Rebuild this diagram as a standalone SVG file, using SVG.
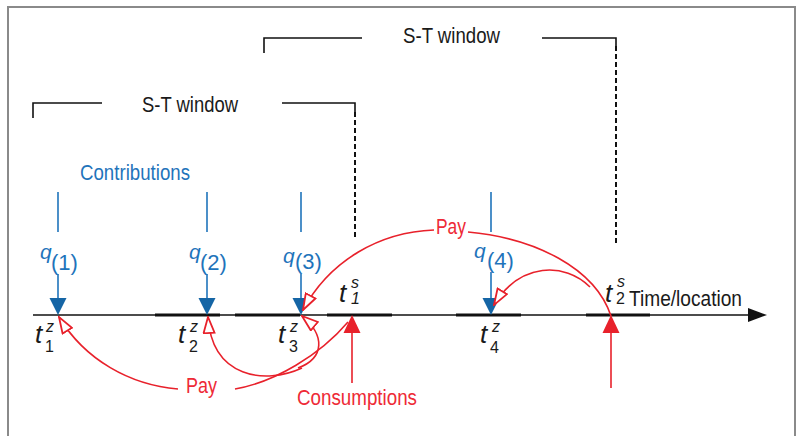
<svg xmlns="http://www.w3.org/2000/svg" width="801" height="436" viewBox="0 0 801 436">
<defs>
<style>
.txt{font-family:"Liberation Sans",Arial,sans-serif;}
.blk{fill:#1a1a1a;}
.blue{fill:#1f74bb;}
.red{fill:#ee2a36;}
.it{font-style:italic;}
.br{stroke:#111;stroke-width:1.6;fill:none;}
.dash{stroke:#111;stroke-width:2;stroke-dasharray:5,3;fill:none;}
.bl{stroke:#1f74bb;stroke-width:1.6;fill:none;}
.rl{stroke:#e8212b;stroke-width:1.6;fill:none;}
.bhead{fill:#1565a5;}
.rhead{fill:#e8212b;}
</style>
<marker id="open" viewBox="0 0 18 13" refX="17" refY="6.5" markerWidth="18" markerHeight="13" markerUnits="userSpaceOnUse" orient="auto">
<path d="M1,1 L17,6.5 L1,12 z" fill="#fff" stroke="#e8212b" stroke-width="1.8"/>
</marker>
</defs>
<rect x="0" y="0" width="801" height="436" fill="#fff"/>
<rect x="8" y="7" width="787" height="440" fill="none" stroke="#8a8a8a" stroke-width="2"/>

<g id="axis">
<line x1="33" y1="315" x2="752" y2="315" stroke="#111" stroke-width="1.6"/>
<path d="M155,315 H220 M235,315 H300 M327,315 H392 M456,315 H521 M586,315 H650" stroke="#111" stroke-width="3"/>
<path d="M748,308 L767,315 L748,322 z" fill="#111"/>
<text class="txt blk" x="629" y="306" font-size="22" textLength="113" lengthAdjust="spacingAndGlyphs">Time/location</text>
</g>

<g id="window1">
<path class="br" d="M33,118 V103 H102 M282,103 H355 V112"/>
<path class="dash" d="M355,112 V238"/>
<text class="txt blk" x="142" y="112" font-size="22" textLength="96" lengthAdjust="spacingAndGlyphs">S-T window</text>
</g>
<g id="window2">
<path class="br" d="M264,53 V38 H362 M542,38 H616 V46"/>
<path class="dash" d="M616,46 V245"/>
<text class="txt blk" x="403" y="43" font-size="22" textLength="97" lengthAdjust="spacingAndGlyphs">S-T window</text>
</g>

<g id="contributions-label">
<text class="txt blue" x="80" y="180" font-size="22" textLength="110" lengthAdjust="spacingAndGlyphs">Contributions</text>
</g>

<g id="c1">
<line class="bl" x1="58" y1="192" x2="58" y2="232"/>
<text class="txt blue" x="40" y="259" font-size="21"><tspan class="it">q</tspan><tspan x="51" y="270" font-size="22">(1)</tspan></text>
<line class="bl" x1="58" y1="274" x2="58" y2="300"/>
<path class="bhead" d="M49.5,298 L66.5,298 L58,315 z"/>
<text class="txt blk it" x="35" y="343" font-size="26">t</text>
<text class="txt blk it" x="46" y="332" font-size="16">z</text>
<text class="txt blk" x="45" y="352" font-size="16">1</text>
</g>
<g id="c2">
<line class="bl" x1="207" y1="192" x2="207" y2="232"/>
<text class="txt blue" x="189" y="259" font-size="21"><tspan class="it">q</tspan><tspan x="200" y="270" font-size="22">(2)</tspan></text>
<line class="bl" x1="207" y1="274" x2="207" y2="300"/>
<path class="bhead" d="M198.5,298 L215.5,298 L207,315 z"/>
<text class="txt blk it" x="178" y="343" font-size="26">t</text>
<text class="txt blk it" x="190" y="332" font-size="16">z</text>
<text class="txt blk" x="189" y="352" font-size="16">2</text>
</g>
<g id="c3">
<line class="bl" x1="301" y1="192" x2="301" y2="232"/>
<text class="txt blue" x="283" y="263" font-size="21"><tspan class="it">q</tspan><tspan x="295" y="269" font-size="22">(3)</tspan></text>
<line class="bl" x1="301" y1="274" x2="301" y2="300"/>
<path class="bhead" d="M292.5,298 L309.5,298 L301,315 z"/>
<text class="txt blk it" x="278" y="343" font-size="26">t</text>
<text class="txt blk it" x="290" y="332" font-size="16">z</text>
<text class="txt blk" x="289" y="352" font-size="16">3</text>
</g>
<g id="c4">
<line class="bl" x1="491" y1="192" x2="491" y2="232"/>
<text class="txt blue" x="474" y="258" font-size="21"><tspan class="it">q</tspan><tspan x="487" y="268" font-size="22">(4)</tspan></text>
<line class="bl" x1="491" y1="272" x2="491" y2="300"/>
<path class="bhead" d="M482.5,298 L499.5,298 L491,315 z"/>
<text class="txt blk it" x="480" y="343" font-size="26">t</text>
<text class="txt blk it" x="492" y="332" font-size="16">z</text>
<text class="txt blk" x="490" y="353" font-size="16">4</text>
</g>

<g id="s1">
<text class="txt blk it" x="339" y="302" font-size="26">t</text>
<text class="txt blk it" x="351" y="288" font-size="16">s</text>
<text class="txt blk it" x="351" y="304" font-size="16">1</text>
<path class="rhead" d="M352,315 L343.5,333 L360.5,333 z"/>
<line class="rl" x1="352" y1="333" x2="352" y2="383"/>
</g>
<g id="s2">
<text class="txt blk it" x="605" y="302" font-size="26">t</text>
<text class="txt blk it" x="617" y="287" font-size="16">s</text>
<text class="txt blk" x="616" y="304" font-size="16">2</text>
<path class="rhead" d="M611,315 L602.5,333 L619.5,333 z"/>
<line class="rl" x1="611" y1="333" x2="611" y2="388"/>
</g>

<g id="consumptions-label">
<text class="txt red" x="297" y="405" font-size="22" textLength="120" lengthAdjust="spacingAndGlyphs">Consumptions</text>
</g>
<g id="pay-labels">
<text class="txt red" x="186" y="393" font-size="22" textLength="31" lengthAdjust="spacingAndGlyphs">Pay</text>
<text class="txt red" x="436" y="234" font-size="22" textLength="30" lengthAdjust="spacingAndGlyphs">Pay</text>
</g>

<g id="connectors">
<path class="rl" d="M178,389 C130,385 85,360 59,317" marker-end="url(#open)"/>
<path class="rl" d="M235,389 C275,382 320,355 348,322"/>
<path class="rl" d="M302,368 C265,385 212,378 208,317" marker-end="url(#open)"/>
<path class="rl" d="M298,368 C325,358 325,335 302,316" marker-end="url(#open)"/>
<path class="rl" d="M611,316 C595,268 535,238 468,232"/>
<path class="rl" d="M434,230 C380,232 330,260 303,310" marker-end="url(#open)"/>
<path class="rl" d="M590,287 C565,262 520,262 494,305" marker-end="url(#open)"/>
</g>
</svg>
